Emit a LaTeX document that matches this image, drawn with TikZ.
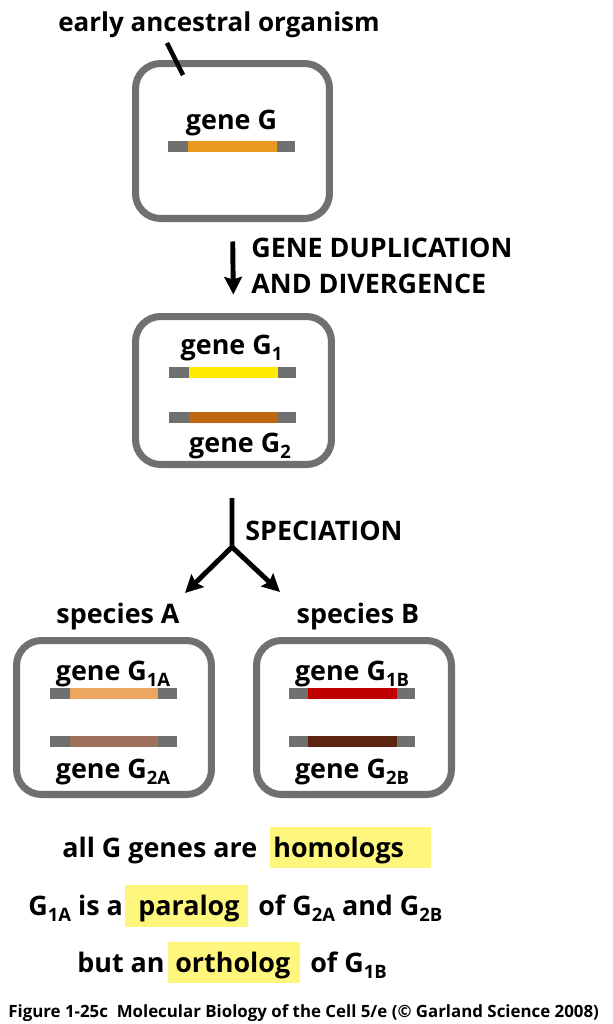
\documentclass[tikz,border=0pt]{standalone}
\usepackage{fontspec}
\setmainfont{Open Sans}
\usepackage{tikz}
\usetikzlibrary{arrows.meta}
\definecolor{cell_gray}{RGB}{110,113,112}
\definecolor{g_orange}{RGB}{233,154,30}
\definecolor{g_yellow}{RGB}{255,234,0}
\definecolor{g_rust}{RGB}{192,102,16}
\definecolor{g_peach}{RGB}{236,166,96}
\definecolor{g_taupe}{RGB}{158,112,92}
\definecolor{g_red}{RGB}{192,0,0}
\definecolor{g_brown}{RGB}{94,36,18}
\definecolor{hl_yellow}{RGB}{255,246,125}
\newcommand{\gsub}[1]{\raisebox{-0.24em}{\fontsize{10.5}{12}\selectfont #1}}
\tikzstyle{cell}=[rectangle,rounded corners=0.5cm,draw=cell_gray,
  line width=4pt,minimum width=3.9cm,minimum height=3.08cm]
\tikzstyle{flank}=[rectangle,fill=cell_gray,inner sep=0pt,
  minimum width=2.54cm,minimum height=0.22cm]
\tikzstyle{core}=[rectangle,inner sep=0pt,minimum width=1.78cm,minimum height=0.22cm]
\tikzstyle{lbl}=[inner sep=0pt,font=\fontsize{15.3}{18}\selectfont\bfseries]
\tikzstyle{capline}=[inner sep=0pt,font=\fontsize{9.6}{12}\selectfont\bfseries]
\tikzstyle{hl}=[rectangle,fill=hl_yellow,inner sep=0pt]
\tikzstyle{arr}=[line width=2.8pt,-{Stealth[length=10pt,width=10pt,inset=1.5pt]}]

\begin{document}
\begin{tikzpicture}[x=0.02cm,y=-0.02cm]
    \useasboundingbox (0,0) rectangle (612,1024);
    % ancestor
    \node [style=lbl,font=\fontsize{14.8}{18}\selectfont\bfseries,anchor=base west] (anc_lbl) at (58,32) {early ancestral organism};
    \node [style=cell,minimum width=3.88cm,minimum height=3.1cm] (anc) at (232.5,141) {};
    \coordinate (lead_top) at (167,43);
    \coordinate (lead_end) at (183,75);
    \draw [line width=2.6pt] (lead_top) to (lead_end);
    \node [style=lbl,anchor=base] (g_lbl) at (231.5,130) {gene G};
    \node [style=flank] (g_bar) at (231.5,146.5) {};
    \node [style=core,fill=g_orange] (g_core) at (232.5,146.5) {};
    % duplication
    \node [style=cell,minimum width=3.92cm,minimum height=2.96cm] (dup) at (233.5,390.5) {};
    \draw [style=arr,shorten <=0.39cm,shorten >=0.37cm] (anc.south) to (dup.north);
    \node [style=lbl,anchor=base west] (dup_lbl1) at (251,257) {GENE DUPLICATION};
    \node [style=lbl,anchor=base west] (dup_lbl2) at (251,293) {AND DIVERGENCE};
    \node [style=lbl,anchor=base] (g1_lbl) at (231.5,354) {gene G\gsub{1}};
    \node [style=flank] (g1_bar) at (232.5,372.5) {};
    \node [style=core,fill=g_yellow] (g1_core) at (233.5,372.5) {};
    \node [style=flank] (g2_bar) at (232.5,417.5) {};
    \node [style=core,fill=g_rust] (g2_core) at (233.5,417.5) {};
    \node [style=lbl,anchor=base] (g2_lbl) at (240,452) {gene G\gsub{2}};
    % speciation
    \coordinate (stem) at (232,498);
    \coordinate (split) at (232,547);
    \coordinate (to_a) at (185,593);
    \coordinate (to_b) at (280,592);
    \draw [style=arr] (stem) to (split) to (to_a);
    \draw [style=arr] (split) to (to_b);
    \node [style=lbl,anchor=base west] (spec_lbl) at (245,540) {SPECIATION};
    % species A and B
    \node [style=lbl,anchor=base] (a_lbl) at (118,623) {species A};
    \node [style=lbl,anchor=base] (b_lbl) at (358,623) {species B};
    \node [style=cell] (sp_a) at (114,717.5) {};
    \node [style=cell] (sp_b) at (354,717.5) {};
    \node [style=lbl,anchor=base] (g1a_lbl) at (113,680) {gene G\gsub{1A}};
    \node [style=flank] (g1a_bar) at (113.5,693.5) {};
    \node [style=core,fill=g_peach] (g1a_core) at (114,693.5) {};
    \node [style=flank] (g2a_bar) at (113.5,741.5) {};
    \node [style=core,fill=g_taupe] (g2a_core) at (114,741.5) {};
    \node [style=lbl,anchor=base] (g2a_lbl) at (113,778) {gene G\gsub{2A}};
    \node [style=lbl,anchor=base] (g1b_lbl) at (352,680) {gene G\gsub{1B}};
    \node [style=flank] (g1b_bar) at (352,693.5) {};
    \node [style=core,fill=g_red] (g1b_core) at (352.5,693.5) {};
    \node [style=flank] (g2b_bar) at (352,741.5) {};
    \node [style=core,fill=g_brown] (g2b_core) at (352.5,741.5) {};
    \node [style=lbl,anchor=base] (g2b_lbl) at (352,778) {gene G\gsub{2B}};
    % statements
    \node [style=hl,minimum width=3.22cm,minimum height=0.82cm] (hom_hl) at (350.5,847.5) {};
    \node [style=lbl,anchor=base west] (hom_pre) at (62,857) {all G genes are};
    \node [style=lbl,anchor=base west] (hom) at (273,857) {homologs};
    \node [style=hl,minimum width=2.46cm,minimum height=0.84cm] (par_hl) at (186.5,906) {};
    \node [style=lbl,anchor=base west] (par_pre) at (28,915) {G\gsub{1A} is a};
    \node [style=lbl,anchor=base west] (par) at (138,915) {paralog};
    \node [style=lbl,anchor=base west] (par_post) at (258,915) {of G\gsub{2A} and G\gsub{2B}};
    \node [style=hl,minimum width=2.64cm,minimum height=0.82cm] (ort_hl) at (234,962.5) {};
    \node [style=lbl,anchor=base west] (ort_pre) at (77,972) {but an};
    \node [style=lbl,anchor=base west] (ort) at (175,972) {ortholog};
    \node [style=lbl,anchor=base west] (ort_post) at (310,972) {of G\gsub{1B}};
    \node [style=capline,anchor=base west] (caption) at (8,1017) {Figure 1-25c\ \ Molecular Biology of the Cell 5/e (© Garland Science 2008)};
  \end{tikzpicture}
\end{document}
